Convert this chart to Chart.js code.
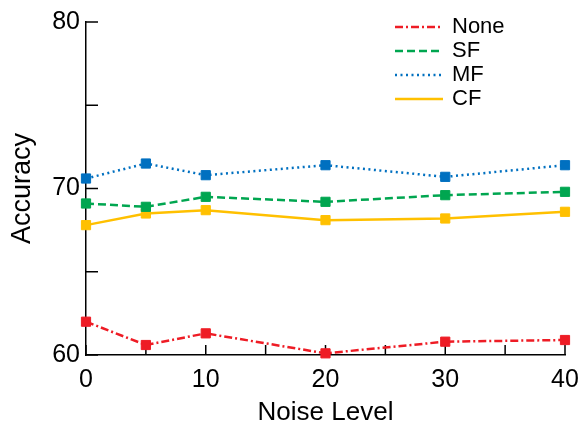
<!DOCTYPE html>
<html><head><meta charset="utf-8">
<script src="https://cdn.jsdelivr.net/npm/chart.js@4"></script>
<style>html,body{margin:0;padding:0;background:#fff}#w{width:580px;height:428px}</style>
</head><body><div id="w"><canvas id="c"></canvas></div>
<script>
const noiseLevels = [0, 5, 10, 20, 30, 40];
const seriesNames = ['None', 'SF', 'MF', 'CF'];
const noneVals = [62.0, 60.6, 61.3, 60.1, 60.8, 60.9];
const sfVals = [69.1, 68.9, 69.5, 69.2, 69.6, 69.8];
const mfVals = [70.6, 71.5, 70.8, 71.4, 70.7, 71.4];
const cfVals = [67.8, 68.5, 68.7, 68.1, 68.2, 68.6];
const xTickLabels = [0, 10, 20, 30, 40];
const yTickLabels = [60, 70, 80];

const colors = ['#ee1c25', '#00a650', '#0070c0', '#ffc000'];
const dashes = [[8,3,2,3],[8,4],[2,3.5],[]];
const vals = [noneVals, sfVals, mfVals, cfVals];
const FONT = '"Liberation Sans", Arial, sans-serif';

const datasets = seriesNames.map((n,i)=>({
  label:n,
  data: noiseLevels.map((x,j)=>({x:x,y:vals[i][j]})),
  borderColor: colors[i], backgroundColor: colors[i],
  borderWidth: 2.5, borderDash: dashes[i],
  pointStyle:'rect', pointRadius:6.5, pointBorderWidth:1,
  pointBackgroundColor: colors[i], pointBorderColor: colors[i],
  tension:0, clip:false
}));

const tickPlugin = {
  id:'inTicks',
  beforeDatasetsDraw(chart){
    const ctx = chart.ctx, xs = chart.scales.x, ys = chart.scales.y;
    const a = chart.chartArea;
    ctx.save();
    ctx.strokeStyle='#000'; ctx.lineWidth=1.5; ctx.setLineDash([]);
    for (let v=0; v<=40; v+=5){
      const px = xs.getPixelForValue(v);
      ctx.beginPath(); ctx.moveTo(px, a.bottom); ctx.lineTo(px, a.bottom-10); ctx.stroke();
    }
    for (let v=60; v<=80; v+=5){
      const py = ys.getPixelForValue(v);
      ctx.beginPath(); ctx.moveTo(a.left, py); ctx.lineTo(a.left+12, py); ctx.stroke();
    }
    ctx.restore();
  },
  afterDraw(chart){
    const ctx = chart.ctx;
    ctx.save();
    ctx.font = '22px '+FONT;
    ctx.textBaseline='middle';
    chart.data.datasets.forEach((d,i)=>{
      const y = 27 + i*24;
      ctx.strokeStyle=d.borderColor; ctx.lineWidth=2.5; ctx.setLineDash(d.borderDash);
      ctx.beginPath(); ctx.moveTo(395,y); ctx.lineTo(443,y); ctx.stroke();
      ctx.fillStyle='#000';
      ctx.fillText(d.label, 452, y-0.5);
    });
    ctx.restore();
  }
};

new Chart(document.getElementById('c'), {
  type:'line',
  data:{datasets},
  plugins:[tickPlugin],
  options:{
    responsive:true, maintainAspectRatio:false, animation:false,
    layout:{padding:{left:0,right:0,top:22,bottom:0}},
    plugins:{legend:{display:false}, tooltip:{enabled:false}},
    scales:{
      x:{type:'linear', min:0, max:40,
        grid:{display:false, drawTicks:false}, border:{display:true,color:'#000',width:1.5},
        ticks:{stepSize:5, padding:10, color:'#000', font:{family:FONT,size:25}, maxRotation:0,
          callback:(v)=> xTickLabels.includes(v) ? String(v) : ''},
        title:{display:true, text:'Noise Level', color:'#000', font:{family:FONT,size:26}, padding:{top:4,bottom:0}},
        afterFit(s){ s.height = 73; s.paddingRight = 15; }
      },
      y:{min:60, max:80,
        grid:{display:false, drawTicks:false}, border:{display:true,color:'#000',width:1.5},
        ticks:{stepSize:5, padding:6, color:'#000', font:{family:FONT,size:25},
          callback:(v)=> yTickLabels.includes(v) ? String(v) : ''},
        title:{display:true, text:'Accuracy', color:'#000', font:{family:FONT,size:27}, padding:{top:6,bottom:0}},
        afterFit(s){ s.width = 86; }
      }
    }
  }
});
</script></body></html>
